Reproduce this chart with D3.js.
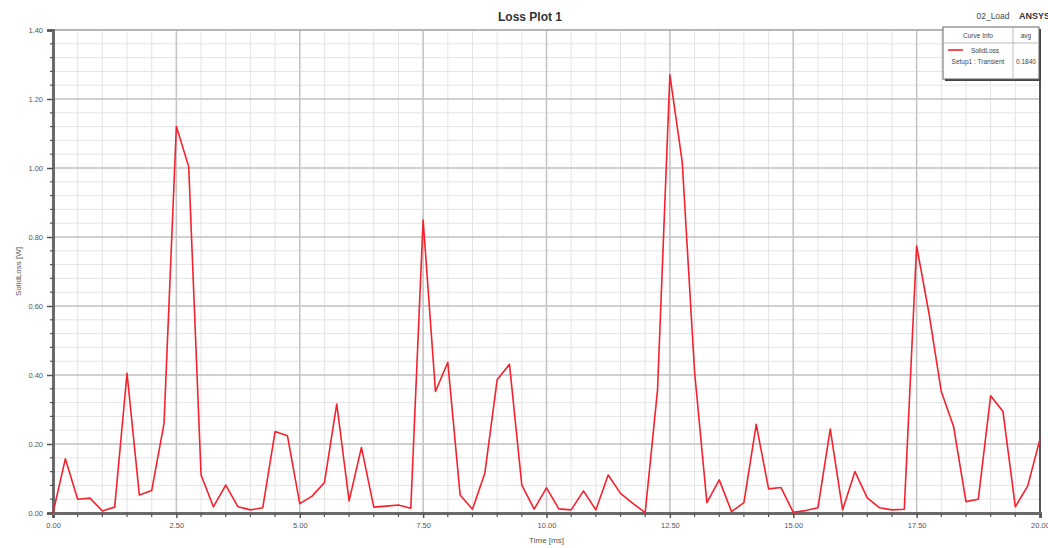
<!DOCTYPE html>
<html>
<head>
<meta charset="utf-8">
<script src="https://cdn.jsdelivr.net/npm/d3@7"></script>
<style>
  body { margin: 0; background: #fff; }
  svg { display: block; font-family: 'Liberation Sans', Arial, sans-serif; }
</style>
</head>
<body>
<div id="chart"></div>
<script>
// time steps in ms (0.25 ms apart)
const times = d3.range(0, 20.001, 0.25)
// SolidLoss [W]
const solidLoss = [
  0.000, 0.157, 0.040, 0.043, 0.006, 0.017, 0.405, 0.052, 0.065, 0.260,
  1.120, 1.004, 0.110, 0.018, 0.081, 0.018, 0.009, 0.015, 0.236, 0.224,
  0.027, 0.049, 0.088, 0.316, 0.035, 0.190, 0.017, 0.020, 0.023, 0.014,
  0.849, 0.352, 0.437, 0.052, 0.011, 0.115, 0.386, 0.431, 0.081, 0.011,
  0.073, 0.012, 0.009, 0.064, 0.009, 0.110, 0.057, 0.028, 0.001, 0.357,
  1.270, 1.018, 0.410, 0.030, 0.096, 0.004, 0.030, 0.257, 0.070, 0.074,
  0.002, 0.007, 0.015, 0.243, 0.009, 0.120, 0.044, 0.015, 0.009, 0.011,
  0.774, 0.579, 0.352, 0.250, 0.033, 0.040, 0.340, 0.294, 0.018, 0.078,
  0.214
]
const xTicks = [0, 2.5, 5, 7.5, 10, 12.5, 15, 17.5, 20]
const yTicks = [0, 0.2, 0.4, 0.6, 0.8, 1.0, 1.2, 1.4]
const legendHeader = ['Curve Info', 'avg']
const legendRows = [['SolidLoss', ''], ['Setup1 : Transient', '0.1840']]

const width = 1048, height = 548
const marginTop = 30, marginRight = 8, marginBottom = 35, marginLeft = 53
const chartWidth = width - marginLeft - marginRight
const chartHeight = height - marginTop - marginBottom

const data = times.map((t, i) => ({ t, v: solidLoss[i] }))

const svg = d3.select('#chart').append('svg')
  .attr('width', width)
  .attr('height', height)

const g = svg.append('g')
  .attr('transform', `translate(${marginLeft},${marginTop})`)

const x = d3.scaleLinear().domain([0, 20]).range([0, chartWidth])
const y = d3.scaleLinear().domain([0, 1.4]).range([chartHeight, 0])

// minor grid
const xMinor = d3.range(0, 20.001, 0.5)
const yMinor = d3.range(0, 1.4001, 0.04)
g.append('g').selectAll('line').data(xMinor).join('line')
  .attr('x1', d => x(d)).attr('x2', d => x(d))
  .attr('y1', 0).attr('y2', chartHeight)
  .attr('stroke', '#e4e4e4').attr('stroke-width', 1)
g.append('g').selectAll('line').data(yMinor).join('line')
  .attr('x1', 0).attr('x2', chartWidth)
  .attr('y1', d => y(d)).attr('y2', d => y(d))
  .attr('stroke', '#e4e4e4').attr('stroke-width', 1)

// major grid
g.append('g').selectAll('line').data(xTicks).join('line')
  .attr('x1', d => x(d)).attr('x2', d => x(d))
  .attr('y1', 0).attr('y2', chartHeight)
  .attr('stroke', '#c4c4c4').attr('stroke-width', 1.5)
g.append('g').selectAll('line').data(yTicks).join('line')
  .attr('x1', 0).attr('x2', chartWidth)
  .attr('y1', d => y(d)).attr('y2', d => y(d))
  .attr('stroke', '#c4c4c4').attr('stroke-width', 1.5)

// frame
g.append('rect')
  .attr('width', chartWidth).attr('height', chartHeight)
  .attr('fill', 'none').attr('stroke', '#9a9a9a').attr('stroke-width', 1)
g.append('line')
  .attr('x1', chartWidth).attr('x2', chartWidth).attr('y1', 0).attr('y2', chartHeight)
  .attr('stroke', '#555').attr('stroke-width', 2)

// axes
const fmt = d3.format('.2f')
const xAxis = g.append('g')
  .attr('transform', `translate(0,${chartHeight})`)
  .call(d3.axisBottom(x).tickValues(xTicks).tickFormat(fmt).tickSize(5).tickPadding(5))
const yAxis = g.append('g')
  .call(d3.axisLeft(y).tickValues(yTicks).tickFormat(fmt).tickSize(6).tickPadding(4))

for (const ax of [xAxis, yAxis]) {
  ax.select('.domain').attr('stroke', '#6a6a6a').attr('stroke-width', 3)
  ax.selectAll('.tick line').attr('stroke', '#555').attr('stroke-width', 1.5)
  ax.selectAll('.tick text').attr('fill', '#555').style('font-size', '7.5px')
}

// minor ticks
g.append('g').selectAll('line').data(xMinor.filter(d => d % 2.5 !== 0)).join('line')
  .attr('x1', d => x(d)).attr('x2', d => x(d))
  .attr('y1', chartHeight).attr('y2', chartHeight + 4)
  .attr('stroke', '#555').attr('stroke-width', 1.2)
g.append('g').selectAll('line').data(yMinor.filter(d => Math.abs(d / 0.2 - Math.round(d / 0.2)) > 0.01)).join('line')
  .attr('x1', -3).attr('x2', 1)
  .attr('y1', d => y(d)).attr('y2', d => y(d))
  .attr('stroke', '#555').attr('stroke-width', 1.2)

// line
const line = d3.line().x(d => x(d.t)).y(d => y(d.v))
g.append('path')
  .datum(data)
  .attr('fill', 'none')
  .attr('stroke', '#f5222d')
  .attr('stroke-width', 1.6)
  .attr('stroke-linejoin', 'round')
  .attr('d', line)

// axis titles
svg.append('text')
  .attr('x', marginLeft + chartWidth / 2).attr('y', 543)
  .attr('text-anchor', 'middle').attr('fill', '#555')
  .style('font-size', '8px')
  .text('Time [ms]')
svg.append('text')
  .attr('transform', `translate(21,${marginTop + chartHeight / 2}) rotate(-90)`)
  .attr('text-anchor', 'middle').attr('fill', '#555')
  .style('font-size', '8px')
  .text('SolidLoss [W]')

// title and corner labels
svg.append('text')
  .attr('x', 530).attr('y', 21)
  .attr('text-anchor', 'middle').attr('fill', '#333')
  .style('font-size', '12px').style('font-weight', 'bold')
  .text('Loss Plot 1')
svg.append('text')
  .attr('x', 993).attr('y', 19)
  .attr('text-anchor', 'middle').attr('fill', '#444')
  .style('font-size', '8.5px')
  .text('02_Load')
svg.append('text')
  .attr('x', 1019).attr('y', 19)
  .attr('fill', '#333')
  .style('font-size', '9px').style('font-weight', 'bold')
  .text('ANSYS')

// legend
const lg = svg.append('g').attr('transform', 'translate(943,27)')
const lw = 96, lh = 52, col = 70
lg.append('rect').attr('x', 2).attr('y', 2).attr('width', lw).attr('height', lh).attr('fill', '#444')
lg.append('rect').attr('width', lw).attr('height', lh).attr('fill', '#fff').attr('stroke', '#666').attr('stroke-width', 1)
lg.append('line').attr('x1', col).attr('x2', col).attr('y1', 0).attr('y2', lh).attr('stroke', '#bbb')
lg.append('line').attr('x1', 0).attr('x2', lw).attr('y1', 16).attr('y2', 16).attr('stroke', '#bbb')
lg.append('text').attr('x', col / 2).attr('y', 11).attr('text-anchor', 'middle')
  .attr('fill', '#444').style('font-size', '6.5px').text(legendHeader[0])
lg.append('text').attr('x', (col + lw) / 2).attr('y', 11).attr('text-anchor', 'middle')
  .attr('fill', '#444').style('font-size', '6.5px').text(legendHeader[1])
lg.append('line').attr('x1', 5).attr('x2', 20).attr('y1', 23).attr('y2', 23)
  .attr('stroke', '#f5222d').attr('stroke-width', 1.6)
lg.append('text').attr('x', 42).attr('y', 26).attr('text-anchor', 'middle')
  .attr('fill', '#444').style('font-size', '6.5px').text(legendRows[0][0])
lg.append('text').attr('x', col / 2).attr('y', 37).attr('text-anchor', 'middle')
  .attr('fill', '#444').style('font-size', '6.5px').text(legendRows[1][0])
lg.append('text').attr('x', (col + lw) / 2).attr('y', 37).attr('text-anchor', 'middle')
  .attr('fill', '#444').style('font-size', '6.5px').text(legendRows[1][1])
</script>
</body>
</html>
